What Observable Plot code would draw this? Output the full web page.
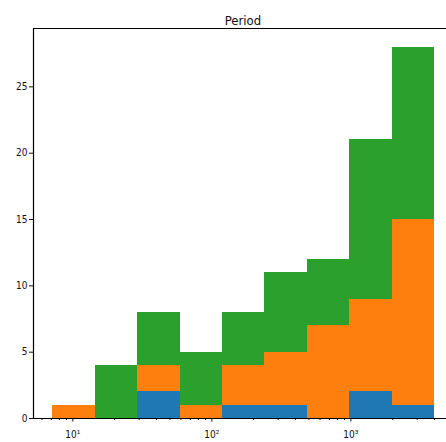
<!DOCTYPE html>
<html><head><meta charset="utf-8">
<script src="https://cdn.jsdelivr.net/npm/d3@7"></script>
<script src="https://cdn.jsdelivr.net/npm/@observablehq/plot@0.6"></script>
<style>body{margin:0;background:#fff;overflow:hidden}</style>
</head><body><div id="chart"></div>
<script>
const title = "Period";
const binEdges = [7.18, 14.49, 29.25, 59.06, 119.2, 240.7, 486.0, 981.3, 1981, 3999];
const seriesNames = ["s1", "s2", "s3"];
const seriesColors = ["#1f77b4", "#ff7f0e", "#2ca02c"];
const s1Counts = [0, 0, 2, 0, 1, 1, 0, 2, 1];
const s2Counts = [1, 0, 2, 1, 3, 4, 7, 7, 14];
const s3Counts = [0, 4, 4, 4, 4, 6, 5, 12, 13];
const yTicks = [0, 5, 10, 15, 20, 25];
const xMajorTicks = [10, 100, 1000];
const xMajorLabels = ["10¹", "10²", "10³"];
const xMinorTicks = [6, 7, 8, 9, 20, 30, 40, 50, 60, 70, 80, 90, 200, 300, 400, 500, 600, 700, 800, 900, 2000, 3000, 4000];

const allCounts = [s1Counts, s2Counts, s3Counts];
const rows = [];
seriesNames.forEach((s, si) => {
  allCounts[si].forEach((c, i) => rows.push({x1: binEdges[i], x2: binEdges[i + 1], series: s, count: c}));
});

const xMin = Math.pow(10, 0.717), xMax = Math.pow(10, 3.688);
const yMax = 29.4;
const font = "'DejaVu Sans Condensed', 'DejaVu Sans', sans-serif";

const chart = Plot.plot({
  width: 446, height: 442,
  marginTop: 28, marginBottom: 24, marginLeft: 33, marginRight: 0,
  style: {fontFamily: font, fontSize: "10px", color: "#111", background: "#fff"},
  x: {type: "log", domain: [xMin, xMax]},
  y: {domain: [0, yMax]},
  color: {domain: seriesNames, range: seriesColors},
  marks: [
    Plot.rectY(rows, {x1: "x1", x2: "x2", y: "count", fill: "series", order: seriesNames, inset: 0, shapeRendering: "crispEdges"}),
    Plot.axisX({ticks: xMinorTicks, tickSize: 2, tickFormat: () => "", stroke: "#111"}),
    Plot.axisX({ticks: xMajorTicks, tickSize: 3.5, tickPadding: 9, tickFormat: d => xMajorLabels[xMajorTicks.indexOf(d)], fontSize: 10, stroke: "#111", label: null}),
    Plot.axisY({ticks: yTicks, tickSize: 4, tickPadding: 2, fontSize: 10, stroke: "#111", label: null}),
    Plot.ruleY([0], {stroke: "#000", strokeWidth: 1.2}),
    Plot.ruleY([yMax], {stroke: "#000", strokeWidth: 1.2}),
    Plot.ruleX([xMin], {stroke: "#000", strokeWidth: 1.2}),
    Plot.text([title], {frameAnchor: "top", dy: -13, dx: 3, fontSize: 13, fill: "#111"})
  ]
});
document.getElementById("chart").appendChild(chart);
</script>
</body></html>
